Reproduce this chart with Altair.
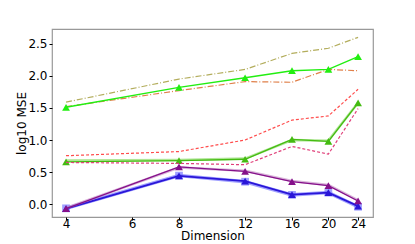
import altair as alt
import pandas as pd

dims = [4, 8, 12, 16, 20, 24]
x_ticks = [4, 6, 8, 12, 16, 20, 24]
y_ticks = [0.0, 0.5, 1.0, 1.5, 2.0, 2.5]

olive = [1.59, 1.95, 2.10, 2.35, 2.43, 2.60]
orange = [1.52, 1.77, 1.91, 1.90, 2.10, 2.08]
bright_green = [1.51, 1.82, 1.97, 2.08, 2.10, 2.30]
red = [0.755, 0.82, 1.00, 1.31, 1.375, 1.79]
green_halo = [0.68, 0.69, 0.71, 1.00, 0.99, 1.58]
green = [0.66, 0.68, 0.70, 1.01, 0.98, 1.58]
pink = [0.65, 0.635, 0.615, 0.90, 0.78, 1.49]
purple_halo = [-0.06, 0.57, 0.52, 0.36, 0.30, 0.06]
purple = [-0.07, 0.58, 0.51, 0.35, 0.29, 0.05]
blue_halo = [-0.065, 0.445, 0.35, 0.145, 0.18, -0.04]
blue = [-0.07, 0.44, 0.36, 0.15, 0.18, -0.03]

series = [
    # name, values, color, width, dash, marker, opacity
    ("olive", olive, "#b3ad5c", 1.2, [6, 2, 1, 2], None, 1.0),
    ("orange", orange, "#e0804a", 1.2, [6, 2, 1, 2], None, 1.0),
    ("bright_green", bright_green, "#22ee11", 1.4, None, "triangle-up", 1.0),
    ("red", red, "#ff4d4d", 1.2, [3, 2], None, 1.0),
    ("green_halo", green_halo, "#9be07a", 2.5, None, None, 0.8),
    ("green", green, "#44bb11", 1.3, None, "triangle-up", 1.0),
    ("pink", pink, "#e0407a", 1.2, [3, 2], None, 1.0),
    ("blue_halo", blue_halo, "#7777ff", 3.5, None, "square", 0.7),
    ("blue", blue, "#2a16d8", 1.8, None, "triangle-up", 1.0),
    ("purple_halo", purple_halo, "#c080c0", 2.5, None, None, 0.6),
    ("purple", purple, "#85108a", 1.3, None, "triangle-up", 1.0),
]

rows = []
for name, vals, *_ in series:
    for d, v in zip(dims, vals):
        rows.append({"series": name, "dim": d, "mse": v})
df = pd.DataFrame(rows)

xs = alt.X("dim:Q",
           scale=alt.Scale(type="log", domain=[3.67, 26.3], nice=False, zero=False),
           axis=alt.Axis(values=x_ticks, title="Dimension", grid=False, domain=False,
                         labelFontSize=12, titleFontSize=12, titleFontWeight="normal",
                         labelFont="DejaVu Sans", titleFont="DejaVu Sans",
                         tickSize=3, labelPadding=-2, titleY=13, titleBaseline="top",
                         labelColor="black", titleColor="black", tickColor="black",
                         labelFlush=False))
ys = alt.Y("mse:Q",
           scale=alt.Scale(domain=[-0.2, 2.73], nice=False, zero=False),
           axis=alt.Axis(values=y_ticks, format=".1f", title="log10 MSE", grid=False,
                         domain=False, labelFontSize=12, titleFontSize=12,
                         titleFontWeight="normal", labelFont="DejaVu Sans",
                         titleFont="DejaVu Sans", tickSize=3, labelPadding=2,
                         titleX=-24, titleY=94, titleAlign="center",
                         titleBaseline="bottom", titleAngle=270,
                         labelColor="black", titleColor="black",
                         tickColor="black"))

layers = []
base = alt.Chart(df)
for name, vals, color, width, dash, marker, op in series:
    lk = dict(color=color, strokeWidth=width, opacity=op, clip=True)
    if dash:
        lk["strokeDash"] = dash
    layers.append(base.transform_filter(alt.datum.series == name)
                  .mark_line(**lk).encode(x=xs, y=ys))
    if marker:
        size = 60 if marker == "triangle-up" else 60
        layers.append(base.transform_filter(alt.datum.series == name)
                      .mark_point(shape=marker, filled=True, color=color, size=size,
                                  opacity=op, clip=True)
                      .encode(x=xs, y=ys))

chart = alt.layer(*layers).properties(
    width=321, height=188,
    autosize=alt.AutoSizeParams(type="none"),
    padding={"left": 44, "top": 21, "right": 34, "bottom": 27},
).configure_view(stroke="#999999", strokeWidth=1.2)

chart.save("out.html", embed_options={"renderer": "svg", "actions": False})
